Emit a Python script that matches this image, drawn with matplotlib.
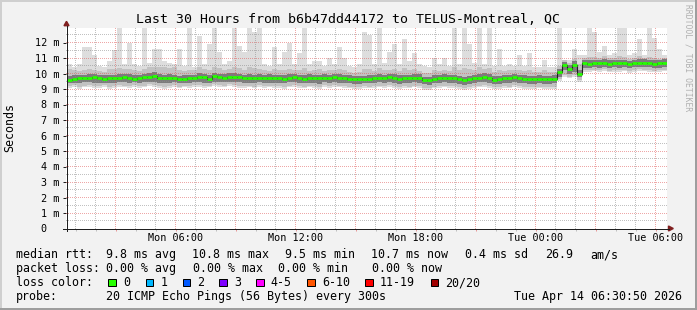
import matplotlib.pyplot as plt
import numpy as np
from matplotlib.lines import Line2D
from matplotlib.patches import Polygon, Rectangle

# 15 minute bins, time in hours after Mon 00:00
t_start = 0.55
bin_h = 0.25

median = [
    9.60, 9.66, 9.68, 9.70, 9.74, 9.76, 9.68, 9.66, 9.70, 9.68, 9.74, 9.76, 9.74, 9.66, 9.70,
    9.76, 9.80, 9.86, 9.72, 9.70, 9.72, 9.68, 9.62, 9.66, 9.68, 9.70, 9.80, 9.78, 9.66, 9.84,
    9.76, 9.72, 9.80, 9.80, 9.76, 9.70, 9.72, 9.68, 9.74, 9.70, 9.72, 9.68, 9.70, 9.66, 9.74,
    9.76, 9.70, 9.66, 9.72, 9.70, 9.68, 9.74, 9.70, 9.76, 9.72, 9.70, 9.66, 9.62, 9.62, 9.64,
    9.66, 9.70, 9.72, 9.70, 9.76, 9.72, 9.66, 9.70, 9.68, 9.74, 9.72, 9.58, 9.56, 9.66, 9.70,
    9.72, 9.68, 9.70, 9.64, 9.56, 9.62, 9.70, 9.74, 9.80, 9.72, 9.60, 9.64, 9.70, 9.68, 9.78,
    9.70, 9.66, 9.64, 9.64, 9.66, 9.64, 9.62, 9.66, 10.08, 10.55, 10.30, 10.58, 9.98, 10.66, 10.64,
    10.68, 10.66, 10.70, 10.64, 10.68, 10.66, 10.68, 10.60, 10.68, 10.70, 10.70, 10.68, 10.62, 10.66, 10.70,
]
ping_min = [
    9.08, 9.13, 9.03, 9.10, 9.16, 9.06, 9.08, 9.12, 9.00, 9.08, 9.14, 9.10, 9.06, 9.12, 9.08,
    9.10, 9.18, 9.14, 9.06, 8.98, 9.08, 9.12, 9.04, 9.10, 9.08, 9.14, 9.16, 9.06, 9.10, 9.18,
    9.14, 9.10, 9.18, 9.12, 9.08, 9.06, 9.10, 9.04, 9.12, 9.08, 9.10, 9.06, 9.08, 9.02, 9.10,
    9.14, 9.08, 9.04, 9.10, 9.08, 9.00, 9.12, 9.08, 9.14, 9.10, 9.06, 9.04, 9.00, 9.02, 9.06,
    9.04, 9.08, 9.10, 9.06, 9.12, 9.08, 9.02, 9.08, 9.04, 9.10, 9.08, 8.96, 8.94, 9.04, 9.08,
    9.10, 9.06, 9.08, 9.00, 8.94, 8.98, 9.08, 9.10, 9.16, 9.08, 8.98, 9.00, 9.06, 9.04, 9.12,
    9.08, 9.02, 9.00, 9.02, 9.04, 9.00, 8.98, 9.02, 9.50, 9.78, 9.68, 9.78, 9.48, 10.10, 10.12,
    10.14, 10.10, 10.16, 10.08, 10.12, 10.10, 10.14, 10.06, 10.12, 10.16, 10.14, 10.12, 10.08, 10.10, 10.14,
]
ping_max = [
    10.6, 10.4, 10.6, 11.7, 11.7, 11.2, 10.5, 10.4, 10.8, 11.5, 13.2, 10.6, 12.0, 10.6, 10.5,
    13.2, 10.7, 11.6, 11.6, 10.8, 10.7, 10.6, 11.6, 10.5, 13.2, 10.4, 12.4, 10.6, 11.9, 13.2,
    11.4, 10.6, 10.8, 13.2, 11.8, 11.4, 13.2, 12.7, 13.2, 10.6, 10.5, 11.7, 10.6, 11.4, 12.0,
    10.6, 11.3, 13.2, 10.6, 10.8, 10.8, 10.5, 11.0, 10.6, 11.7, 11.0, 10.5, 10.4, 10.6, 12.7,
    12.5, 10.6, 13.2, 10.7, 11.4, 11.9, 10.6, 12.2, 10.8, 11.3, 10.6, 10.5, 10.4, 11.0, 10.6,
    11.0, 10.5, 13.2, 10.6, 13.2, 11.9, 10.7, 13.2, 10.6, 13.2, 10.5, 11.6, 10.5, 10.6, 10.5,
    11.2, 10.5, 11.3, 10.4, 10.4, 10.9, 10.4, 10.4, 13.2, 10.9, 10.9, 11.6, 11.2, 11.2, 13.2,
    12.7, 11.4, 11.8, 11.2, 11.3, 13.2, 13.2, 11.2, 11.3, 12.2, 11.2, 13.2, 12.3, 11.6, 11.2,
]
p10 = [
    9.20, 9.25, 9.15, 9.22, 9.28, 9.18, 9.20, 9.24, 9.12, 9.20, 9.26, 9.22, 9.18, 9.24, 9.20,
    9.22, 9.30, 9.26, 9.18, 9.10, 9.20, 9.24, 9.16, 9.22, 9.20, 9.26, 9.28, 9.18, 9.22, 9.30,
    9.26, 9.22, 9.30, 9.24, 9.20, 9.18, 9.22, 9.16, 9.24, 9.20, 9.22, 9.18, 9.20, 9.14, 9.22,
    9.26, 9.20, 9.16, 9.22, 9.20, 9.12, 9.24, 9.20, 9.26, 9.22, 9.18, 9.16, 9.12, 9.14, 9.18,
    9.16, 9.20, 9.22, 9.18, 9.24, 9.20, 9.14, 9.20, 9.16, 9.22, 9.20, 9.08, 9.06, 9.16, 9.20,
    9.22, 9.18, 9.20, 9.12, 9.06, 9.10, 9.20, 9.22, 9.28, 9.20, 9.10, 9.12, 9.18, 9.16, 9.24,
    9.20, 9.14, 9.12, 9.14, 9.16, 9.12, 9.10, 9.14, 9.62, 9.90, 9.80, 9.90, 9.60, 10.20, 10.22,
    10.24, 10.20, 10.26, 10.18, 10.22, 10.20, 10.24, 10.16, 10.22, 10.26, 10.24, 10.22, 10.18, 10.20, 10.24,
]
p90 = [
    10.30, 10.20, 10.15, 10.25, 10.30, 10.25, 10.15, 10.10, 10.30, 10.30, 10.35, 10.30, 10.30, 10.20, 10.15,
    10.30, 10.45, 10.45, 10.40, 10.40, 10.35, 10.40, 10.20, 10.15, 10.25, 10.20, 10.45, 10.30, 10.20, 10.40,
    10.35, 10.20, 10.30, 10.40, 10.35, 10.25, 10.40, 10.35, 10.30, 10.20, 10.15, 10.30, 10.20, 10.25, 10.30,
    10.25, 10.20, 10.35, 10.15, 10.20, 10.30, 10.15, 10.25, 10.20, 10.30, 10.25, 10.10, 10.05, 10.10, 10.30,
    10.30, 10.15, 10.35, 10.20, 10.25, 10.30, 10.15, 10.35, 10.25, 10.30, 10.15, 10.05, 10.05, 10.20, 10.15,
    10.25, 10.15, 10.40, 10.20, 10.35, 10.30, 10.20, 10.40, 10.30, 10.35, 10.10, 10.25, 10.15, 10.20, 10.25,
    10.25, 10.15, 10.20, 10.10, 10.10, 10.20, 10.10, 10.10, 10.50, 10.85, 10.70, 10.95, 10.60, 11.00, 11.05,
    11.05, 11.00, 11.10, 11.00, 11.00, 11.10, 11.05, 10.95, 11.00, 11.10, 11.00, 11.05, 11.00, 10.95, 11.00,
]
p35 = [
    9.38, 9.40, 9.36, 9.42, 9.44, 9.40, 9.38, 9.40, 9.36, 9.40, 9.44, 9.42, 9.40, 9.42, 9.38,
    9.42, 9.46, 9.48, 9.40, 9.36, 9.40, 9.42, 9.36, 9.40, 9.40, 9.42, 9.46, 9.40, 9.40, 9.48,
    9.44, 9.42, 9.46, 9.44, 9.42, 9.38, 9.40, 9.36, 9.42, 9.40, 9.40, 9.38, 9.40, 9.36, 9.42,
    9.44, 9.40, 9.36, 9.40, 9.38, 9.34, 9.42, 9.40, 9.44, 9.40, 9.38, 9.36, 9.32, 9.34, 9.36,
    9.36, 9.40, 9.42, 9.38, 9.44, 9.40, 9.34, 9.40, 9.36, 9.42, 9.40, 9.30, 9.28, 9.36, 9.40,
    9.42, 9.38, 9.40, 9.34, 9.28, 9.32, 9.40, 9.42, 9.46, 9.40, 9.32, 9.34, 9.38, 9.36, 9.44,
    9.40, 9.36, 9.34, 9.34, 9.36, 9.34, 9.32, 9.36, 9.80, 10.20, 9.96, 10.10, 9.76, 10.38, 10.38,
    10.40, 10.38, 10.42, 10.36, 10.40, 10.38, 10.40, 10.34, 10.40, 10.42, 10.42, 10.40, 10.36, 10.38, 10.42,
]
p65 = [
    9.82, 9.88, 9.90, 9.92, 9.96, 9.98, 9.90, 9.88, 9.92, 9.90, 9.96, 9.98, 9.96, 9.88, 9.92,
    9.98, 10.02, 10.08, 9.94, 9.92, 9.94, 9.90, 9.84, 9.88, 9.90, 9.92, 10.02, 10.00, 9.88, 10.06,
    9.98, 9.94, 10.02, 10.02, 9.98, 9.92, 9.94, 9.90, 9.96, 9.92, 9.94, 9.90, 9.92, 9.88, 9.96,
    9.98, 9.92, 9.88, 9.94, 9.92, 9.90, 9.96, 9.92, 9.98, 9.94, 9.92, 9.88, 9.84, 9.84, 9.86,
    9.88, 9.92, 9.94, 9.92, 9.98, 9.94, 9.88, 9.92, 9.90, 9.96, 9.94, 9.80, 9.78, 9.88, 9.92,
    9.94, 9.90, 9.92, 9.86, 9.78, 9.84, 9.92, 9.96, 10.02, 9.94, 9.82, 9.86, 9.92, 9.90, 10.00,
    9.92, 9.88, 9.86, 9.86, 9.88, 9.86, 9.84, 9.88, 10.32, 10.76, 10.54, 10.80, 10.22, 10.88, 10.86,
    10.90, 10.88, 10.92, 10.86, 10.90, 10.88, 10.90, 10.82, 10.90, 10.92, 10.92, 10.90, 10.84, 10.88, 10.92,
]

xtick_hours = [6, 12, 18, 24, 30]
xtick_labels = ['Mon 06:00', 'Mon 12:00', 'Mon 18:00', 'Tue 00:00', 'Tue 06:00']
ytick_values = list(range(13))
ytick_labels = ['0  '] + ['%d m' % v for v in range(1, 13)]

title = 'Last 30 Hours from b6b47dd44172 to TELUS-Montreal, QC'
rtt_items = ['9.8 ms avg', '10.8 ms max', '9.5 ms min', '10.7 ms now', '0.4 ms sd', '26.9', 'am/s']
loss_items = ['0.00 % avg', '0.00 % max', '0.00 % min', '0.00 % now']
loss_labels = ['0', '1', '2', '3', '4-5', '6-10', '11-19', '20/20']
loss_colors = ['#26ff00', '#00b8ff', '#0059ff', '#7e00ff', '#ff00ff', '#ff5500', '#ff0000', '#a10000']
probe_text = '20 ICMP Echo Pings (56 Bytes) every 300s'
stamp = 'Tue Apr 14 06:30:50 2026'

# layout in pixels (pixel centres: x = 66.5 at t_start, y = 228.5 at 0 s)
W, H = 697, 310
px_per_h = 20.0
px_per_ms = 15.5
ax_l, ax_r, ax_t, ax_b = 66, 667, 28, 229
mono = 'DejaVu Sans Mono'

fig = plt.figure(figsize=(W / 100, H / 100), dpi=100, facecolor='#f2f2f2')


def fx(x):
    return x / W


def fy(y):
    return 1 - y / H


def ftext(x, y, s, size=8.4, **kw):
    fig.text(fx(x), fy(y), s, family=mono, fontsize=size, **kw)


ax = fig.add_axes([fx(ax_l), fy(ax_b), (ax_r - ax_l) / W, (ax_b - ax_t) / H])
ax.set_facecolor('white')
for s in ax.spines.values():
    s.set_visible(False)
xlim = (t_start + (ax_l - 66.5) / px_per_h, t_start + (ax_r - 66.5) / px_per_h)
ylim = ((228.5 - ax_b) / px_per_ms, (228.5 - ax_t) / px_per_ms)

edges = t_start + bin_h * np.arange(len(median) + 1)


def ext(a):
    return np.append(a, a[-1])


# smoke: outer pings light, inner pings dark
ax.fill_between(edges, ext(ping_min), ext(ping_max), step='post', color='#dddddd', lw=0, zorder=1)
ax.fill_between(edges, ext(p10), ext(p90), step='post', color='#c2c2c2', lw=0, zorder=1.1)
ax.fill_between(edges, ext(p35), ext(p65), step='post', color='#7c7c7c', lw=0, zorder=1.2)

# dotted grid as a pixel image (1px on / 1px off)
grid_minor = (0.56, 0.56, 0.56, 0.55)
grid_major = (0.87, 0.31, 0.31, 0.5)
grid = np.zeros((ax_b - ax_t, ax_r - ax_l, 4))
for h in range(1, 31):
    c = int(np.floor(66.5 + px_per_h * (h - t_start))) - ax_l
    grid[0::2, c] = grid_major if h % 3 == 0 else grid_minor
for v in np.arange(0.5, 12.6, 0.5):
    r = int(np.floor(228.5 - px_per_ms * v)) - ax_t
    grid[r, 0::2] = grid_major if v % 1 == 0 else grid_minor
ax.imshow(grid, extent=(xlim[0], xlim[1], ylim[0], ylim[1]), origin='upper',
          interpolation='nearest', aspect='auto', zorder=2)

ax.step(edges, ext(median), where='post', color='#202020', lw=0.8, zorder=4)
ax.hlines(median, edges[:-1], edges[1:], color='#26ff00', lw=2.0, zorder=5)
ax.set_xlim(*xlim)
ax.set_ylim(*ylim)

# ticks
ax.set_yticks(ytick_values, ytick_labels, family=mono, fontsize=7.3)
ax.tick_params(axis='y', length=2.45, width=0.72, pad=2.5, color='#1f1f1f')
major = list(range(3, 31, 3))
ax.set_xticks(major, [xtick_labels[xtick_hours.index(h)] if h in xtick_hours else ''
                      for h in major], family=mono, fontsize=7.3)
ax.set_xticks(range(1, 31), minor=True)
ax.tick_params(axis='x', which='major', length=1.44, width=0.72, pad=1.6, color='#e89a9a')
ax.tick_params(axis='x', which='minor', length=1.44, width=0.72, color='#c0c0c0')

# axes lines and arrows
fig.add_artist(Line2D([fx(62.5), fx(668.5)], [fy(228.5)] * 2, color='#1f1f1f', lw=0.72))
fig.add_artist(Line2D([fx(66.5)] * 2, [fy(230.5), fy(25.5)], color='#1f1f1f', lw=0.72))
fig.add_artist(Polygon([(fx(64.0), fy(25.7)), (fx(69.0), fy(25.7)), (fx(66.5), fy(21.3))],
                       closed=True, color='#801f1f', transform=fig.transFigure))
fig.add_artist(Polygon([(fx(668.5), fy(226.0)), (fx(668.5), fy(231.0)), (fx(673.3), fy(228.5))],
                       closed=True, color='#801f1f', transform=fig.transFigure))

# frame
fig.add_artist(Rectangle((0, fy(2)), 1, 2 / H, transform=fig.transFigure, color='#cfcfcf', lw=0))
fig.add_artist(Rectangle((0, 0), 2 / W, 1, transform=fig.transFigure, color='#cfcfcf', lw=0))
fig.add_artist(Rectangle((0, 0), 1, 2 / H, transform=fig.transFigure, color='#9e9e9e', lw=0))
fig.add_artist(Rectangle((fx(W - 2), 0), 2 / W, 1, transform=fig.transFigure, color='#9e9e9e', lw=0))

# texts
ftext(348, 23.3, title, size=9.5, ha='center', va='baseline')
ftext(10, 127.5, 'Seconds', rotation=90, ha='center', va='center')
ftext(688, 58, 'RRDTOOL / TOBI OETIKER', size=5.8, rotation=270, ha='center', va='center',
      color='#b0b0b0')

ftext(15.5, 258.3, 'median rtt:', va='baseline')
for s, x in zip(rtt_items, [106.3, 192.0, 285.0, 371.3, 465.0, 545.0, 590.0]):
    ftext(x, 258.3, s, va='baseline')

ftext(15.5, 272.2, 'packet loss:', va='baseline')
for s, x in zip(loss_items, [106.3, 193.0, 278.3, 371.7]):
    ftext(x, 272.2, s, va='baseline')

ftext(15.5, 286.0, 'loss color:', va='baseline')
for s, c, x in zip(loss_labels, loss_colors, [108.3, 145.7, 182.7, 219.3, 256.3, 307.3, 365.3, 430.7]):
    fig.add_artist(Rectangle((fx(x), fy(286.3)), 7.4 / W, 7.6 / H, transform=fig.transFigure,
                             facecolor=c, edgecolor='black', lw=0.72))
    ftext(x + 14.5, 286.0, s, va='baseline')

ftext(15.5, 299.8, 'probe:', va='baseline')
ftext(106.3, 299.8, probe_text, va='baseline')
ftext(681.5, 299.8, stamp, ha='right', va='baseline')

fig.savefig('out.png', dpi=100, facecolor=fig.get_facecolor())
